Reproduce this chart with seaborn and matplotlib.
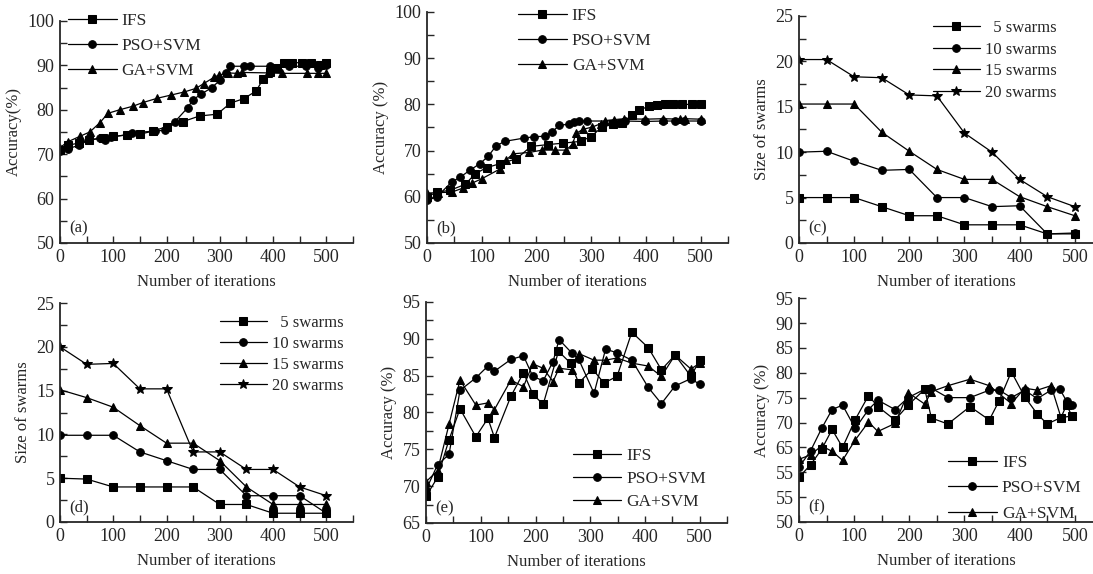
import numpy as np
import pandas as pd
import seaborn as sns
import matplotlib
matplotlib.use("Agg")
import matplotlib.pyplot as plt
from matplotlib.ticker import MultipleLocator, FixedLocator

# ---- panel (a) ----
a_ifs_x = [0, 15, 35, 55, 80, 100, 125, 150, 175, 200, 230, 262, 295, 320, 345, 368, 382, 395, 408, 420, 435, 455, 472, 488, 500]
a_ifs_y = [71.0, 72.0, 72.5, 73.2, 73.6, 74.0, 74.3, 74.5, 75.2, 76.2, 77.3, 78.6, 79.0, 81.5, 82.5, 84.2, 87.0, 88.5, 89.5, 90.5, 90.6, 90.6, 90.5, 90.0, 90.5]
a_pso_x = [0, 15, 35, 55, 75, 85, 95, 125, 135, 178, 198, 215, 240, 250, 265, 285, 300, 312, 320, 345, 357, 395, 430, 462, 485, 500]
a_pso_y = [70.8, 71.2, 72.0, 73.2, 73.6, 73.3, 73.8, 74.4, 74.8, 75.2, 75.4, 77.2, 80.5, 82.3, 83.5, 85.0, 86.6, 88.2, 89.8, 89.8, 89.8, 89.8, 89.8, 89.8, 89.5, 90.0]
a_ga_x = [0, 15, 37, 56, 75, 90, 112, 137, 155, 183, 208, 233, 255, 270, 289, 298, 315, 332, 342, 391, 416, 463, 484, 500]
a_ga_y = [71.5, 72.8, 74.0, 75.0, 77.1, 79.2, 80.0, 80.8, 81.6, 82.6, 83.3, 84.0, 84.8, 85.9, 87.3, 87.8, 88.3, 88.2, 88.4, 88.3, 88.2, 88.2, 88.2, 88.2]

# ---- panel (b) ----
b_ifs_x = [0, 18, 42, 70, 88, 109, 134, 163, 190, 221, 248, 281, 299, 319, 339, 357, 375, 387, 405, 420, 435, 450, 466, 484, 500]
b_ifs_y = [60.0, 61.0, 61.4, 62.7, 65.0, 66.3, 67.2, 68.2, 70.9, 71.3, 71.6, 72.0, 73.0, 75.0, 75.7, 76.0, 77.6, 78.7, 79.6, 79.9, 80.0, 80.0, 80.0, 80.0, 80.0]
b_pso_x = [0, 18, 45, 60, 79, 97, 112, 126, 142, 177, 196, 215, 228, 242, 259, 269, 278, 293, 362, 398, 432, 453, 469, 500]
b_pso_y = [59.2, 60.0, 63.2, 64.2, 65.8, 67.2, 68.8, 71.0, 72.0, 72.7, 73.0, 73.1, 74.0, 75.5, 75.7, 76.2, 76.4, 76.4, 76.4, 76.3, 76.4, 76.4, 76.4, 76.4]
b_ga_x = [0, 20, 45, 66, 83, 100, 133, 144, 157, 187, 210, 233, 254, 266, 272, 285, 302, 317, 326, 342, 360, 399, 432, 463, 472, 500]
b_ga_y = [60.8, 60.9, 61.0, 61.9, 63.0, 63.9, 66.0, 67.9, 69.3, 69.6, 70.1, 70.1, 70.1, 71.4, 73.7, 74.6, 75.1, 75.8, 76.5, 76.7, 76.9, 76.8, 76.9, 76.8, 76.9, 76.8]

# ---- panels (c) and (d): swarm sizes ----
swarm_x = [0, 50, 100, 150, 200, 250, 300, 350, 400, 450, 500]
swarm_labels = ["  5 swarms", "10 swarms", "15 swarms", "20 swarms"]
c_5 = [5, 5, 5, 4, 3, 3, 2, 2, 2, 1, 1]
c_10 = [10, 10.1, 9, 8, 8.1, 5, 5, 4, 4.1, 1, 1.1]
c_15 = [15.3, 15.3, 15.3, 12.2, 10.1, 8.1, 7, 7, 5.1, 4, 3]
c_20 = [20.2, 20.2, 18.3, 18.2, 16.3, 16.2, 12.1, 10.0, 7.0, 5.1, 4.0]
d_5 = [5, 4.9, 4, 4, 4, 4, 2, 2, 1, 1, 1]
d_10 = [9.9, 9.9, 9.9, 8, 7, 6, 6, 3, 3, 3, 1]
d_15 = [15.1, 14.2, 13.1, 11, 9, 9, 7, 4, 2, 2, 2]
d_20 = [20, 18, 18.1, 15.2, 15.2, 8, 8, 6, 6, 4, 3]

# ---- panel (e) ----
e_x = [0, 21, 42, 62, 91, 113, 125, 155, 178, 195, 214, 232, 243, 266, 279, 307, 328, 349, 376, 406, 430, 455, 484, 500]
e_ifs_x = [0, 21, 42, 62, 91, 113, 125, 155, 178, 195, 214, 242, 264, 279, 304, 325, 349, 376, 406, 430, 455, 484, 500]
e_ifs_y = [68.6, 71.2, 76.3, 80.5, 76.7, 79.2, 76.6, 82.2, 85.4, 82.5, 81.1, 88.3, 86.7, 84.0, 85.9, 84.0, 84.9, 90.9, 88.8, 85.8, 87.8, 84.9, 87.1]
e_pso_y = [69.5, 72.9, 74.3, 83.0, 84.7, 86.3, 85.6, 87.2, 87.7, 84.9, 84.3, 86.9, 89.9, 88.1, 87.2, 82.6, 88.6, 88.1, 87.1, 83.4, 81.2, 83.6, 84.6, 83.8]
e_ga_y = [70.6, 72.1, 78.4, 84.4, 81.0, 81.3, 80.4, 84.4, 83.5, 86.6, 86.0, 84.2, 86.0, 85.8, 88.0, 87.1, 87.1, 87.4, 86.7, 86.3, 84.9, 87.8, 85.9, 86.7]

# ---- panel (f) ----
f_ifs_x = [0, 21, 41, 60, 79, 102, 126, 143, 174, 198, 228, 240, 270, 310, 345, 363, 385, 409, 432, 450, 475, 485, 495]
f_ifs_y = [59.0, 61.5, 64.6, 68.6, 65.0, 70.6, 75.4, 73.2, 70.5, 73.5, 76.7, 70.9, 69.7, 73.2, 70.5, 74.4, 80.2, 75.2, 71.7, 69.7, 71.0, 73.5, 71.3]
f_pso_x = [0, 21, 41, 60, 79, 102, 126, 143, 174, 198, 228, 240, 270, 310, 345, 363, 385, 409, 432, 457, 473, 485, 495]
f_pso_y = [61.0, 64.3, 68.8, 72.6, 73.5, 68.8, 72.6, 74.5, 72.6, 75.0, 76.7, 76.9, 75.0, 75.0, 76.5, 76.5, 75.0, 76.5, 74.8, 76.5, 76.7, 74.3, 73.5]
f_ga_x = [0, 21, 41, 60, 79, 102, 126, 143, 174, 198, 228, 240, 270, 310, 345, 385, 409, 432, 457, 475, 495]
f_ga_y = [62.6, 63.5, 65.3, 64.2, 62.4, 66.5, 70.1, 68.2, 69.8, 76.0, 73.7, 76.2, 77.4, 78.7, 77.4, 73.8, 76.9, 76.5, 77.4, 71.0, 71.3]

# tick labels of (f) as printed in the figure (the 60 tick reads "55")
f_tick_labels = ["50", "55", "55", "65", "70", "75", "80", "85", "90", "95"]

method_labels = ["IFS", "PSO+SVM", "GA+SVM"]
markers = ["s", "o", "^", "*"]

sns.set_style("ticks")
plt.rcParams["font.family"] = ["Liberation Serif", "DejaVu Serif"]

fig = plt.figure(figsize=(10.93, 5.74), dpi=100)

axes_pos = {
    "a": [0.0549, 0.5767, 0.268, 0.3868],
    "b": [0.3907, 0.5767, 0.2754, 0.4024],
    "c": [0.7310, 0.5767, 0.2690, 0.3955],
    "d": [0.0549, 0.0906, 0.268, 0.3815],
    "e": [0.3898, 0.0889, 0.2754, 0.3850],
    "f": [0.7310, 0.0906, 0.2690, 0.3900],
}


def draw_series(ax, xs, ys, marker, label):
    msize = 7 if marker == "*" else 5.5
    sns.lineplot(x=xs, y=ys, ax=ax, color="black", lw=0.9, marker=marker,
                 markersize=msize, markeredgecolor="black", markerfacecolor="black",
                 label=label, sort=False, estimator=None)


def style_axes(ax, xmax, ylim, ymajor, yminor, ylabel, tag):
    ax.set_xlim(0, xmax)
    ax.set_ylim(*ylim)
    ax.xaxis.set_major_locator(FixedLocator([0, 100, 200, 300, 400, 500]))
    ax.xaxis.set_minor_locator(FixedLocator([50, 150, 250, 350, 450, 550]))
    ax.yaxis.set_major_locator(MultipleLocator(ymajor))
    if yminor:
        ax.yaxis.set_minor_locator(MultipleLocator(yminor))
    ax.tick_params(which="both", direction="in", length=5, width=1.0, labelsize=13, pad=4)
    for s in ["top", "right"]:
        ax.spines[s].set_visible(False)
    for s in ["left", "bottom"]:
        ax.spines[s].set_linewidth(1.3)
    ax.set_xlabel("Number of iterations", fontsize=12, labelpad=6)
    ax.set_ylabel(ylabel, fontsize=12, labelpad=4)
    ax.text(0.03, 0.03, f"({tag})", transform=ax.transAxes, fontsize=12, ha="left", va="bottom")


def add_legend(ax, loc, anchor, fs, spacing):
    ax.legend(loc=loc, bbox_to_anchor=anchor, frameon=False, fontsize=fs,
              handlelength=2.8, handletextpad=0.3, borderpad=0, borderaxespad=0,
              labelspacing=spacing)


# (a)
ax = fig.add_axes(axes_pos["a"])
for xs, ys, m, lab in zip([a_ifs_x, a_pso_x, a_ga_x], [a_ifs_y, a_pso_y, a_ga_y], markers, method_labels):
    draw_series(ax, xs, ys, m, lab)
style_axes(ax, 550, (50, 100), 10, 5, "Accuracy(%)", "a")
add_legend(ax, "upper left", (0.027, 1.036), 12.5, 0.5)

# (b)
ax = fig.add_axes(axes_pos["b"])
for xs, ys, m, lab in zip([b_ifs_x, b_pso_x, b_ga_x], [b_ifs_y, b_pso_y, b_ga_y], markers, method_labels):
    draw_series(ax, xs, ys, m, lab)
style_axes(ax, 550, (50, 100), 10, 5, "Accuracy (%)", "b")
add_legend(ax, "upper left", (0.302, 1.017), 12.5, 0.5)

# (c)
ax = fig.add_axes(axes_pos["c"])
for ys, m, lab in zip([c_5, c_10, c_15, c_20], markers, swarm_labels):
    draw_series(ax, swarm_x, ys, m, lab)
style_axes(ax, 533, (0, 25), 5, 2.5, "Size of swarms", "c")
add_legend(ax, "upper left", (0.456, 0.982), 12, 0.33)

# (d)
ax = fig.add_axes(axes_pos["d"])
for ys, m, lab in zip([d_5, d_10, d_15, d_20], markers, swarm_labels):
    draw_series(ax, swarm_x, ys, m, lab)
style_axes(ax, 550, (0, 25), 5, 2.5, "Size of swarms", "d")
add_legend(ax, "upper left", (0.546, 0.945), 12, 0.3)

# (e)
ax = fig.add_axes(axes_pos["e"])
for xs, ys, m, lab in zip([e_ifs_x, e_x, e_x], [e_ifs_y, e_pso_y, e_ga_y], markers, method_labels):
    draw_series(ax, xs, ys, m, lab)
style_axes(ax, 550, (65, 95), 5, 2.5, "Accuracy (%)", "e")
add_legend(ax, "lower left", (0.487, 0.059), 12.5, 0.4)

# (f)
ax = fig.add_axes(axes_pos["f"])
for xs, ys, m, lab in zip([f_ifs_x, f_pso_x, f_ga_x], [f_ifs_y, f_pso_y, f_ga_y], markers, method_labels):
    draw_series(ax, xs, ys, m, lab)
style_axes(ax, 533, (50, 95), 5, None, "Accuracy (%)", "f")
ax.set_yticks(np.arange(50, 96, 5))
ax.set_yticklabels(f_tick_labels)
add_legend(ax, "lower left", (0.507, 0.0), 12.5, 0.55)

fig.savefig("out.png", dpi=100)
